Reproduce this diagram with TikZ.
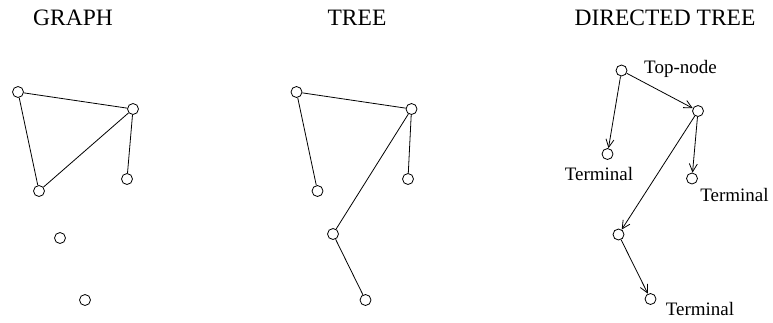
\documentclass[tikz,border=0pt]{standalone}
\usepackage{fontspec}
\setmainfont{Liberation Serif}
\usetikzlibrary{arrows.meta}
\begin{document}
\begin{tikzpicture}[x=1pt,y=-1pt,
  vtx/.style={circle,draw,line width=0.8pt,minimum size=11pt,inner sep=0pt},
  edge/.style={line width=0.8pt},
  arc/.style={line width=0.8pt,-{Straight Barb[length=8pt,width=8pt,line width=0.8pt]},shorten >=0pt},
  title/.style={font=\fontsize{23.5}{26}\selectfont,anchor=base},
  lab/.style={font=\fontsize{19}{22}\selectfont,anchor=base}]
\useasboundingbox (0,0) rectangle (773,322);
% titles
\node[title] (t1) at (73,25) {GRAPH};
\node[title] (t2) at (357,25) {TREE};
\node[title] (t3) at (665,25) {DIRECTED TREE};
% graph
\node[vtx] (ga) at (18,92) {};
\node[vtx] (gb) at (133,109) {};
\node[vtx] (gc) at (39,191) {};
\node[vtx] (gd) at (127,179) {};
\node[vtx] (ge) at (60,238) {};
\node[vtx] (gf) at (85,300) {};
\draw[edge] (ga) -- (gb);
\draw[edge] (ga) -- (gc);
\draw[edge] (gb) -- (gc);
\draw[edge] (gb) -- (gd);
% tree
\node[vtx] (ta) at (296.5,92) {};
\node[vtx] (tb) at (411.5,109) {};
\node[vtx] (tc) at (317.5,191) {};
\node[vtx] (td) at (408,179) {};
\node[vtx] (te) at (333,234) {};
\node[vtx] (tf) at (365.5,300) {};
\draw[edge] (ta) -- (tb);
\draw[edge] (ta) -- (tc);
\draw[edge] (tb) -- (td);
\draw[edge] (tb) -- (te);
\draw[edge] (te) -- (tf);
% directed tree
\node[vtx] (da) at (621.5,70.5) {};
\node[vtx] (db) at (698,111) {};
\node[vtx] (dc) at (607.5,154) {};
\node[vtx] (dd) at (692,178.5) {};
\node[vtx] (de) at (618.5,234.5) {};
\node[vtx] (df) at (650.5,299) {};
\draw[arc] (da) -- (db);
\draw[arc] (da) -- (dc);
\draw[arc] (db) -- (dd);
\draw[arc] (db) -- (de);
\draw[arc] (de) -- (df);
\node[lab] (l1) at (680.5,73.5) {Top-node};
\node[lab] (l2) at (599,180) {Terminal};
\node[lab] (l3) at (734.5,201.5) {Terminal};
\node[lab] (l4) at (700,315) {Terminal};
\end{tikzpicture}
\end{document}
